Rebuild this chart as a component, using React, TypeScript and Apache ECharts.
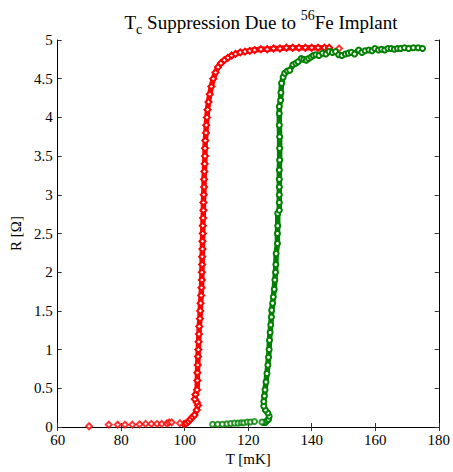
import React, { useEffect, useRef } from "react";
import * as echarts from "echarts";

const xTicks = [60, 80, 100, 120, 140, 160, 180];
const yTicks = [0, 0.5, 1, 1.5, 2, 2.5, 3, 3.5, 4, 4.5, 5];

// Red (lower Tc) - sparse low points and dense transition
const redSparse: number[][] = [
  [69.9, 0.01], [76.1, 0.03], [78.9, 0.03], [81.2, 0.03], [83.5, 0.03], [85.8, 0.035],
  [87.7, 0.04], [89.5, 0.04], [91.3, 0.04], [92.8, 0.04], [94.4, 0.045], [95.1, 0.06],
  [95.9, 0.06], [98.5, 0.05], [148.6, 4.89],
];
const redCurve: number[][] = [
  [99.8, 0.04], [100.5, 0.05], [101.2, 0.07], [101.8, 0.1], [102.5, 0.13], [103.1, 0.155],
  [103.8, 0.22], [104.2, 0.28], [103.8, 0.32], [103.2, 0.36], [103.4, 0.42], [103.9, 0.48],
  [104.0, 0.6], [104.0, 0.7], [104.1, 0.8], [104.2, 0.91], [104.3, 1.0], [104.4, 1.1],
  [104.5, 1.2], [104.6, 1.3], [104.8, 1.4], [104.9, 1.5], [105.0, 1.6], [105.2, 1.7],
  [105.3, 1.8], [105.4, 1.9], [105.4, 2.0], [105.5, 2.1], [105.5, 2.2], [105.6, 2.3],
  [105.6, 2.4], [105.7, 2.5], [105.7, 2.6], [105.8, 2.7], [105.9, 2.8], [105.9, 2.9],
  [106.0, 3.0], [106.1, 3.1], [106.1, 3.2], [106.2, 3.3], [106.3, 3.4], [106.4, 3.5],
  [106.4, 3.6], [106.5, 3.7], [106.7, 3.8], [106.8, 3.9], [107.0, 4.0], [107.2, 4.1],
  [107.5, 4.2], [107.9, 4.3], [108.4, 4.4], [109.0, 4.5], [109.7, 4.58], [110.5, 4.65],
  [111.4, 4.7], [112.5, 4.74], [113.6, 4.77], [114.8, 4.8], [116.0, 4.82], [117.5, 4.84],
  [119.0, 4.85], [120.5, 4.86], [122.0, 4.87], [124.0, 4.88], [126.0, 4.88], [128.0, 4.89],
  [130.0, 4.89], [132.0, 4.9], [134.0, 4.9], [136.0, 4.9], [138.0, 4.9], [140.0, 4.9],
  [142.0, 4.9], [144.0, 4.9], [145.5, 4.9],
];

// Green (higher Tc)
const greenSparse: number[][] = [
  [108.8, 0.035], [110.4, 0.035], [111.9, 0.035], [113.3, 0.04], [114.5, 0.045],
  [115.7, 0.05], [116.8, 0.05], [117.8, 0.055], [118.6, 0.055], [119.7, 0.065],
  [120.7, 0.065], [122.0, 0.07], [124.3, 0.065],
];
const greenCurve: number[][] = [
  [124.8, 0.06], [125.4, 0.06], [125.9, 0.08], [126.4, 0.1], [126.6, 0.14], [126.2, 0.18],
  [125.4, 0.22], [124.9, 0.27], [124.9, 0.33], [125.1, 0.4], [125.3, 0.48], [125.6, 0.58],
  [125.9, 0.69], [126.2, 0.8], [126.4, 0.9], [126.6, 1.0], [126.7, 1.12], [126.9, 1.22],
  [127.1, 1.32], [127.3, 1.42], [127.4, 1.51], [127.7, 1.6], [127.9, 1.68], [128.2, 1.78],
  [128.4, 1.9], [128.6, 2.0], [128.7, 2.1], [128.8, 2.24], [129.2, 2.37], [129.2, 2.5],
  [129.3, 2.6], [129.3, 2.76], [129.8, 2.8], [129.8, 2.9], [129.8, 3.0], [129.8, 3.1],
  [129.8, 3.2], [129.8, 3.32], [129.9, 3.45], [129.9, 3.6], [129.9, 3.75], [129.8, 3.9],
  [129.8, 4.05], [129.8, 4.14], [130.2, 4.22], [130.3, 4.32], [130.5, 4.44], [131.0, 4.52],
  [131.5, 4.57], [132.3, 4.6], [133.1, 4.61], [134.1, 4.68], [135.0, 4.7], [135.7, 4.72],
  [136.7, 4.76], [137.5, 4.75], [138.3, 4.74], [139.0, 4.76], [139.8, 4.78], [140.5, 4.8],
  [141.3, 4.81], [142.3, 4.8], [143.4, 4.83], [144.5, 4.82], [145.5, 4.85], [146.5, 4.84],
  [147.5, 4.85], [148.5, 4.81], [149.5, 4.8], [150.6, 4.82], [151.5, 4.83], [152.5, 4.84],
  [153.5, 4.82], [154.8, 4.87], [155.8, 4.84], [156.8, 4.86], [158.0, 4.87], [159.0, 4.86],
  [159.9, 4.89], [161.0, 4.87], [162.0, 4.88], [163.0, 4.87], [164.0, 4.89], [165.0, 4.89],
  [166.0, 4.88], [167.0, 4.89], [168.0, 4.89], [169.2, 4.9], [170.5, 4.89], [172.0, 4.9],
  [173.5, 4.9], [174.9, 4.89],
];

const RED = "#ff0000";
const GREEN = "#008000";
const FONT = "'Liberation Serif', 'Times New Roman', serif";

export default function App() {
  const ref = useRef<HTMLDivElement>(null);
  useEffect(() => {
    if (!ref.current) return;
    const chart = echarts.init(ref.current, undefined, { renderer: "svg" });
    const axisCommon = {
      axisLine: { show: true, lineStyle: { color: "#000", width: 1 } },
      axisTick: { show: true, inside: true, length: 4, lineStyle: { color: "#333" } },
      splitLine: { show: false },
    };
    const tStyle = { fontFamily: FONT, fontWeight: "normal", color: "#000" };
    chart.setOption({
      animation: false,
      backgroundColor: "#fff",
      title: {
        text: "{n|T}{sub|c}{n| Suppression Due to }{sup|56}{n|Fe Implant}",
        left: 256,
        textAlign: "center",
        top: 3,
        textStyle: {
          fontFamily: FONT,
          fontWeight: "normal",
          rich: {
            n: { ...tStyle, fontSize: 19, lineHeight: 28, verticalAlign: "middle" },
            sub: { ...tStyle, fontSize: 14, lineHeight: 28, verticalAlign: "bottom" },
            sup: { ...tStyle, fontSize: 14, lineHeight: 28, verticalAlign: "top" },
          },
        },
      },
      grid: { left: 54, right: 12, top: 40, bottom: 45, containLabel: false },
      xAxis: [
        {
          type: "value",
          min: 60,
          max: 180,
          interval: 20,
          position: "bottom",
          ...axisCommon,
          axisLabel: { color: "#000", fontFamily: FONT, fontSize: 15, margin: 5, customValues: xTicks },
          name: "T [mK]",
          nameLocation: "middle",
          nameGap: 24,
          nameTextStyle: { color: "#000", fontFamily: FONT, fontSize: 15 },
        },
        {
          type: "value",
          min: 60,
          max: 180,
          interval: 20,
          position: "top",
          ...axisCommon,
          axisLabel: { show: false },
        },
      ],
      yAxis: [
        {
          type: "value",
          min: 0,
          max: 5,
          interval: 0.5,
          position: "left",
          ...axisCommon,
          axisLabel: { color: "#000", fontFamily: FONT, fontSize: 15, margin: 5, customValues: yTicks },
          name: "R [Ω]",
          nameLocation: "middle",
          nameGap: 32,
          nameTextStyle: { color: "#000", fontFamily: FONT, fontSize: 15 },
        },
        {
          type: "value",
          min: 0,
          max: 5,
          interval: 0.5,
          position: "right",
          ...axisCommon,
          axisLabel: { show: false },
        },
      ],
      series: [
        {
          type: "line",
          data: redCurve,
          symbol: "emptyDiamond",
          symbolSize: 6,
          showAllSymbol: true,
          lineStyle: { color: RED, width: 5.5 },
          itemStyle: { color: RED, borderColor: RED, borderWidth: 1.2 },
          z: 2,
        },
        {
          type: "scatter",
          data: redSparse,
          symbol: "emptyDiamond",
          symbolSize: 6,
          itemStyle: { color: RED, borderColor: RED, borderWidth: 1.2 },
          z: 2,
        },
        {
          type: "line",
          data: greenCurve,
          symbol: "emptyCircle",
          symbolSize: 5,
          showAllSymbol: true,
          lineStyle: { color: GREEN, width: 5.5 },
          itemStyle: { color: GREEN, borderColor: GREEN, borderWidth: 1.2 },
          z: 2,
        },
        {
          type: "scatter",
          data: greenSparse,
          symbol: "emptyCircle",
          symbolSize: 5,
          itemStyle: { color: GREEN, borderColor: GREEN, borderWidth: 1.2 },
          z: 2,
        },
      ],
    });
    return () => chart.dispose();
  }, []);
  return (
    <div
      ref={ref}
      style={{ position: "fixed", left: 0, top: 0, width: 453, height: 472, background: "#fff" }}
    />
  );
}
